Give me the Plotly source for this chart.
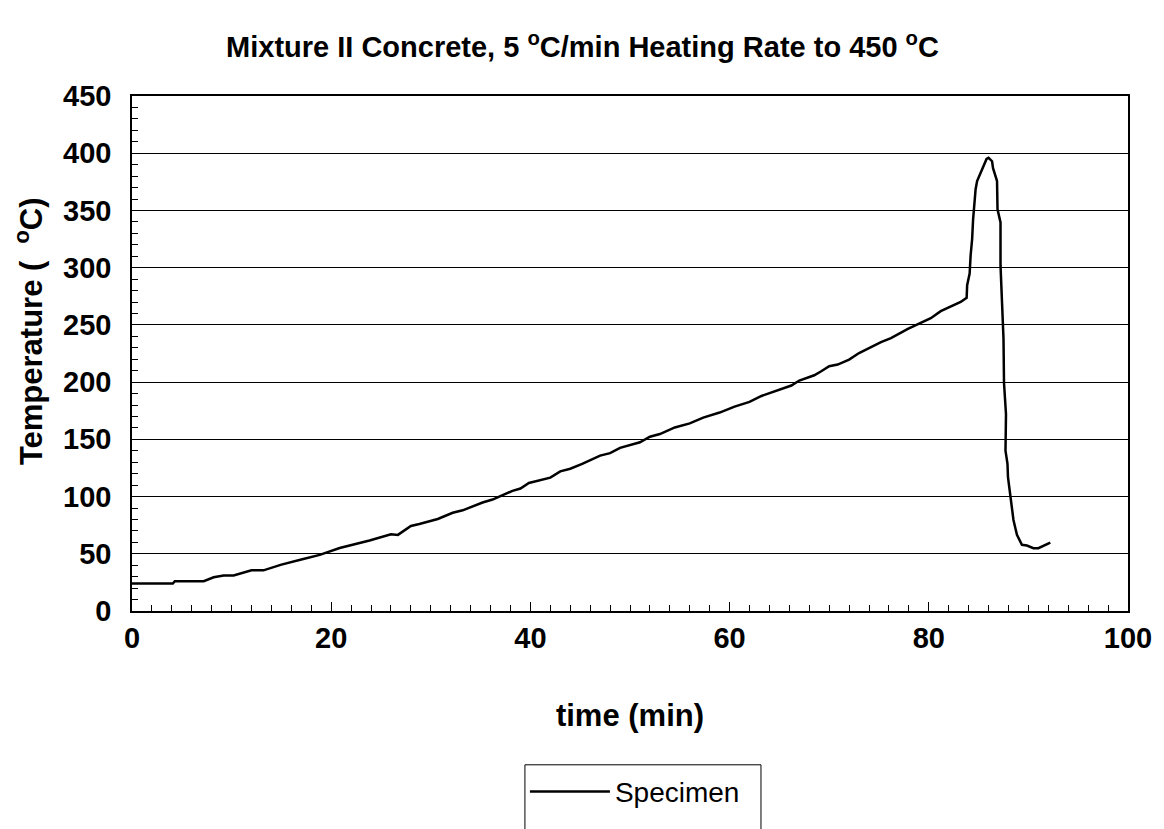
import plotly.graph_objects as go

time_min = [0, 4.1, 4.3, 7.2, 8.2, 9.2, 10.2, 11.2, 12.0, 13.2, 15.0, 17.0, 18.85,
            20.85, 22.2, 23.85, 26.0, 26.7, 28.0, 28.85, 30.7, 32.2, 33.2, 35.2,
            36.2, 38.2, 39.0, 39.85, 42.0, 43.0, 44.0, 45.2, 47.0, 48.0, 49.0,
            51.0, 52.0, 53.0, 54.5, 56.0, 57.35, 59.0, 60.5, 62.0, 63.2, 65.0,
            66.2, 67.0, 67.85, 68.5, 69.2, 70.0, 70.85, 72.0, 73.0, 75.2, 76.2,
            77.9, 80.2, 81.2, 83.2, 83.8, 83.85, 84.1, 84.2, 84.35, 84.45, 84.7,
            84.85, 85.25, 85.8, 86.0, 86.35, 86.45, 86.85, 86.9, 87.2, 87.2,
            87.45, 87.5, 87.55, 87.75, 87.7, 87.9, 87.95, 88.2, 88.5, 88.85,
            89.35, 89.85, 90.5, 91.0, 92.2]
temperature = [24, 24, 26, 26, 29.5, 31, 31, 33.5, 35.5, 35.5, 40.5, 45, 49,
               55, 57.8, 61.6, 67, 66.5, 74.3, 76, 80.4, 85.8, 88, 94.8,
               97.4, 105, 107, 111.9, 116.5, 122, 124.3, 128.6, 135.8, 137.9, 142.5,
               147.4, 152.3, 154.6, 160.4, 163.9, 169, 173.4, 178.6, 182.7, 187.9, 193.6,
               197, 201.4, 203.8, 206, 209.5, 213.9, 215.3, 219.7, 225.4, 235, 238.4,
               246.5, 255.8, 262, 270, 273.7, 284.7, 294.8, 310.7, 325, 342.5, 368.5,
               375.7, 384.4, 395, 396, 393, 387, 375.7, 351, 339.6, 302,
               255.8, 238, 199.4, 172, 140, 128.6, 117, 99.7, 79.5, 66.5,
               57.8, 57.2, 54.9, 54.9, 59.8]

series_name = "Specimen"
title_text = "<b>Mixture II Concrete, 5 <sup>o</sup>C/min Heating Rate to 450 <sup>o</sup>C</b>"
x_title = "<b>time (min)</b>"
y_title = "<b>Temperature (  <sup>o</sup>C)</b>"

FONT = "Arial, 'Liberation Sans', sans-serif"

fig = go.Figure()
fig.add_trace(go.Scatter(x=time_min, y=temperature, mode="lines", name=series_name,
                         line=dict(color="black", width=2.5), showlegend=True))

fig.update_layout(
    width=1164, height=829,
    margin=dict(l=131.5, r=32.5, t=96, b=214),
    paper_bgcolor="white", plot_bgcolor="white",
    font=dict(family=FONT, color="black"),
    title=dict(text=title_text, x=(218 + 947) / 2 / 1164, xanchor="center", y=1 - 47 / 829, yanchor="middle",
               font=dict(size=29, family=FONT, color="black")),
    showlegend=True,
    legend=dict(x=(526 - 131.5) / 1000, xanchor="left", y=(615 - 772) / 519, yanchor="top",
                font=dict(size=28, family=FONT, color="black"),
                bgcolor="rgba(0,0,0,0)", borderwidth=0, itemwidth=80),
    annotations=[dict(text=y_title, xref="paper", yref="paper",
                      x=-(131.5 - 28) / 1000, y=(615 - 333) / 519,
                      xanchor="center", yanchor="middle", textangle=-90, showarrow=False,
                      font=dict(size=31, family=FONT, color="black"))],
)
fig.add_shape(type="rect", xref="paper", yref="paper",
              x0=(526 - 131.5) / 1000, x1=(763 - 131.5) / 1000,
              y0=(615 - 770) / 519, y1=(615 - 850) / 519,
              line=dict(color="black", width=1), fillcolor="rgba(0,0,0,0)", layer="above")

fig.update_xaxes(range=[0, 100], dtick=20, tick0=0,
                 showline=True, linecolor="black", linewidth=1.5, mirror=True,
                 ticks="inside", ticklen=9, tickcolor="black", tickwidth=1,
                 minor=dict(ticks="inside", dtick=2, ticklen=6, tickcolor="black", tickwidth=1),
                 showgrid=False, zeroline=False,
                 tickfont=dict(size=29, family=FONT, color="black", weight="bold"),
                 ticklabelstandoff=0,
                 title=dict(text=x_title, font=dict(size=31, family=FONT, color="black"), standoff=52))
fig.update_yaxes(range=[0, 450], dtick=50, tick0=0,
                 showline=True, linecolor="black", linewidth=1.5, mirror=True,
                 ticks="", showgrid=True, gridcolor="black", gridwidth=1,
                 minor=dict(ticks="inside", dtick=10, ticklen=6, tickcolor="black", tickwidth=1, showgrid=False),
                 zeroline=False,
                 tickfont=dict(size=29, family=FONT, color="black", weight="bold"),
                 ticklabelstandoff=13)

fig.write_html("out.html")
